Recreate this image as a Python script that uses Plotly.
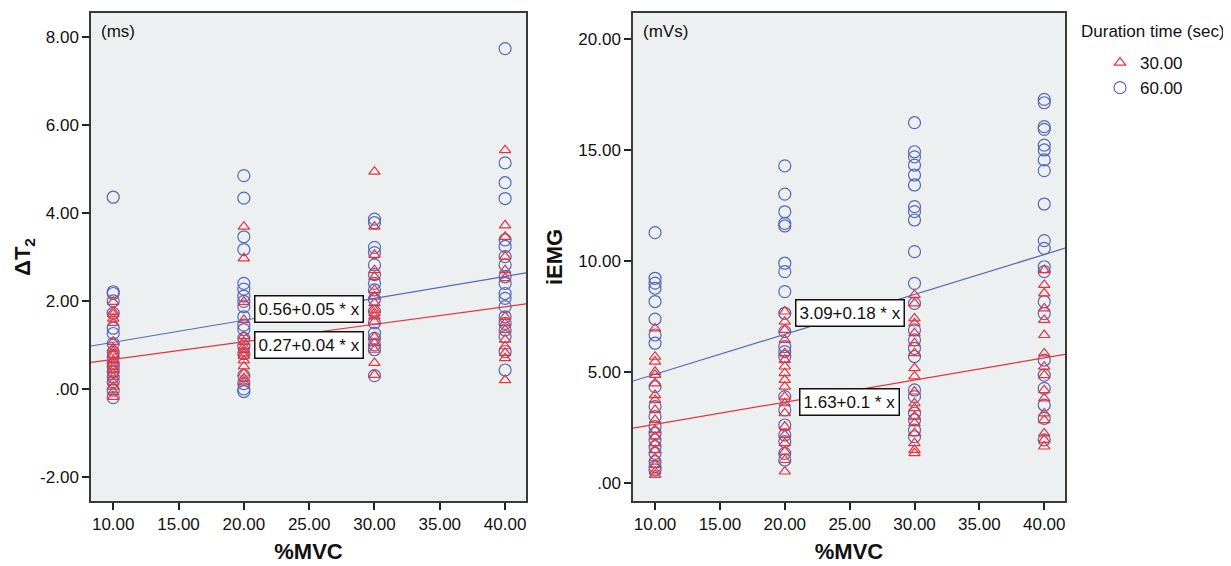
import plotly.graph_objects as go

# ---------------- data ----------------
mvc_levels = [10, 20, 30, 40]

x_tickvals = [10, 15, 20, 25, 30, 35, 40]
x_ticktext = ["10.00", "15.00", "20.00", "25.00", "30.00", "35.00", "40.00"]
dt2_tickvals = [-2, 0, 2, 4, 6, 8]
dt2_ticktext = ["-2.00", ".00", "2.00", "4.00", "6.00", "8.00"]
iemg_tickvals = [0, 5, 10, 15, 20]
iemg_ticktext = [".00", "5.00", "10.00", "15.00", "20.00"]

# Delta T2 (ms), 30 s duration, one list per %MVC level
dt2_30s = [
    [1.98, 1.75, 1.70, 1.60, 1.50, 1.07, 0.92, 0.85, 0.77, 0.65, 0.58, 0.50, 0.43, 0.35, 0.27, 0.15, 0.05, -0.07, -0.18],
    [3.69, 2.97, 1.98, 1.57, 1.20, 1.07, 0.96, 0.88, 0.81, 0.75, 0.65, 0.51, 0.35, 0.24, 0.15],
    [4.94, 3.69, 3.05, 2.70, 2.55, 2.25, 2.10, 1.95, 1.80, 1.72, 1.65, 1.53, 1.18, 1.04, 0.89, 0.59, 0.32],
    [5.43, 3.72, 3.46, 3.01, 2.70, 2.52, 1.64, 1.49, 1.34, 1.12, 0.97, 0.82, 0.70, 0.20],
]
# Delta T2 (ms), 60 s duration
dt2_60s = [
    [4.36, 2.21, 2.17, 2.00, 1.72, 1.38, 1.26, 1.03, 0.84, 0.73, 0.58, 0.50, 0.39, 0.27, 0.16, -0.03, -0.20],
    [4.85, 4.34, 3.46, 3.17, 2.40, 2.27, 2.11, 1.99, 1.87, 1.64, 1.45, 1.35, 1.15, 0.97, 0.80, 0.30, 0.12, 0.00, -0.06],
    [3.86, 3.78, 3.22, 3.10, 2.82, 2.60, 2.40, 2.25, 2.04, 1.76, 1.50, 1.27, 1.15, 1.00, 0.89, 0.30],
    [7.74, 5.14, 4.69, 4.33, 3.39, 3.24, 3.01, 2.82, 2.55, 2.40, 2.17, 2.06, 1.87, 1.64, 1.49, 1.34, 1.19, 0.85, 0.43],
]
# iEMG (mVs), 30 s duration
iemg_30s = [
    [6.96, 5.68, 5.46, 5.00, 4.86, 4.48, 3.95, 3.73, 3.28, 2.83, 2.37, 2.07, 1.77, 1.47, 1.10, 0.80, 0.50, 0.35],
    [7.72, 7.26, 6.89, 6.44, 5.84, 5.54, 5.24, 4.94, 4.64, 4.33, 3.88, 3.58, 3.13, 2.53, 2.15, 1.78, 1.40, 1.02, 0.50],
    [8.47, 8.09, 7.41, 7.19, 6.74, 6.29, 5.84, 5.17, 4.79, 4.11, 3.58, 3.36, 2.98, 2.68, 2.23, 1.78, 1.48, 1.33],
    [9.59, 8.92, 8.54, 7.86, 7.34, 6.66, 5.83, 5.23, 4.85, 4.17, 3.80, 3.12, 2.82, 2.22, 1.93, 1.63],
]
# iEMG (mVs), 60 s duration
iemg_60s = [
    [11.28, 9.22, 9.00, 8.77, 8.17, 7.38, 6.66, 6.29, 4.33, 3.43, 2.98, 2.53, 2.23, 1.93, 1.62, 1.32, 0.95, 0.72, 0.57],
    [14.29, 13.02, 12.22, 11.70, 11.58, 9.90, 9.52, 8.62, 7.64, 6.81, 6.14, 5.91, 5.69, 3.88, 3.28, 2.60, 2.15, 1.85, 1.32, 1.02],
    [16.24, 14.93, 14.70, 14.33, 13.88, 13.43, 12.45, 12.23, 11.85, 10.42, 8.99, 8.09, 6.89, 6.44, 6.06, 5.69, 4.18, 3.88, 3.13, 2.83, 2.37, 2.07],
    [17.29, 17.14, 16.06, 15.94, 15.23, 15.01, 14.56, 14.08, 12.57, 10.92, 10.57, 9.74, 9.52, 8.16, 7.63, 5.53, 4.85, 4.25, 3.50, 2.90, 1.93],
]

# fit lines: (intercept, slope)
dt2_fit_30 = (0.27, 0.04)
dt2_fit_60 = (0.56, 0.05)
iemg_fit_30 = (1.63, 0.1)
iemg_fit_60 = (3.09, 0.18)

fit_labels_dt2 = ["0.56+0.05 * x", "0.27+0.04 * x"]
fit_labels_iemg = ["3.09+0.18 * x", "1.63+0.1 * x"]
series_names = ["30.00", "60.00"]
legend_title = "Duration time (sec)"

# ---------------- styling ----------------
# the page body has an 8px default margin; compensate so the chart lands where intended
OFF = 8
W, H = 1231 - OFF, 566 - OFF
RED = "#E8323C"
BLUE = "#5767BC"
FONT = "Liberation Sans, Arial, sans-serif"
XR = [8.3, 41.6]
DT2_R = [-2.55, 8.55]
IEMG_R = [-0.83, 21.19]


def px_x(p):
    return (p - OFF) / W


def px_y(p):
    return 1 - (p - OFF) / H


def flatten(groups):
    xs, ys = [], []
    for lvl, vals in zip(mvc_levels, groups):
        xs += [lvl] * len(vals)
        ys += vals
    return xs, ys


fig = go.Figure()


def add_panel(xa, ya, d30, d60, f30, f60, show):
    x30, y30 = flatten(d30)
    x60, y60 = flatten(d60)
    fig.add_trace(go.Scatter(
        x=x60, y=y60, mode="markers", name=series_names[1], legendgroup="60",
        showlegend=show, legendrank=2,
        marker=dict(symbol="circle-open", size=12, color=BLUE, line=dict(width=1.2, color=BLUE)),
        xaxis=xa, yaxis=ya))
    fig.add_trace(go.Scatter(
        x=x30, y=y30, mode="markers", name=series_names[0], legendgroup="30",
        showlegend=show, legendrank=1,
        marker=dict(symbol="triangle-up-open", size=10, color=RED, line=dict(width=1.2, color=RED)),
        xaxis=xa, yaxis=ya))
    for (b0, b1), col in [(f60, BLUE), (f30, RED)]:
        fig.add_trace(go.Scatter(
            x=XR, y=[b0 + b1 * XR[0], b0 + b1 * XR[1]], mode="lines",
            line=dict(color=col, width=1.2), showlegend=False, hoverinfo="skip",
            xaxis=xa, yaxis=ya))


add_panel("x", "y", dt2_30s, dt2_60s, dt2_fit_30, dt2_fit_60, True)
add_panel("x2", "y2", iemg_30s, iemg_60s, iemg_fit_30, iemg_fit_60, False)

axis_common = dict(
    showline=True, linecolor="#3a3a3a", linewidth=1.5, mirror=True,
    ticks="outside", ticklen=7, tickwidth=1.5, tickcolor="#222",
    showgrid=False, zeroline=False,
    tickfont=dict(family=FONT, size=17, color="#111"),
)
title_font = dict(family=FONT, size=22, color="#111")

fig.update_layout(
    width=W, height=H,
    margin=dict(l=0, r=0, t=0, b=0),
    paper_bgcolor="white",
    plot_bgcolor="#ECF0F0",
    font=dict(family=FONT, size=17, color="#111"),
    xaxis=dict(domain=[px_x(91), px_x(526)], range=XR, tickvals=x_tickvals, ticktext=x_ticktext,
               title=dict(text="<b>%MVC</b>", font=title_font, standoff=10), **axis_common),
    yaxis=dict(domain=[px_y(501), px_y(13)], range=DT2_R, tickvals=dt2_tickvals, ticktext=dt2_ticktext,
               title=dict(text="<b>ΔT<sub>2</sub></b>", font=title_font, standoff=3), **axis_common),
    xaxis2=dict(domain=[px_x(633), px_x(1065)], range=XR, tickvals=x_tickvals, ticktext=x_ticktext,
                anchor="y2",
                title=dict(text="<b>%MVC</b>", font=title_font, standoff=10), **axis_common),
    yaxis2=dict(domain=[px_y(501), px_y(13)], range=IEMG_R, tickvals=iemg_tickvals, ticktext=iemg_ticktext,
                anchor="x2",
                title=dict(text="<b>iEMG</b>", font=title_font, standoff=10), **axis_common),
    legend=dict(
        x=px_x(1100), y=px_y(45), xanchor="left", yanchor="top",
        font=dict(family=FONT, size=17, color="#111"),
        bgcolor="rgba(0,0,0,0)", tracegroupgap=0, itemwidth=30,
    ),
)

# legend title
fig.add_annotation(text=legend_title, xref="paper", yref="paper", x=px_x(1079), y=px_y(31),
                   xanchor="left", yanchor="middle", showarrow=False,
                   font=dict(family=FONT, size=17, color="#111"))

# unit labels inside plots
fig.add_annotation(text="(ms)", xref="paper", yref="paper", x=px_x(99), y=px_y(32),
                   xanchor="left", yanchor="middle", showarrow=False,
                   font=dict(family=FONT, size=17, color="#111"))
fig.add_annotation(text="(mVs)", xref="paper", yref="paper", x=px_x(641), y=px_y(32),
                   xanchor="left", yanchor="middle", showarrow=False,
                   font=dict(family=FONT, size=17, color="#111"))

# fit equation boxes
box = dict(showarrow=False, bgcolor="white", bordercolor="#111", borderwidth=1.5, borderpad=3,
           font=dict(family=FONT, size=17, color="#111"), xanchor="center", yanchor="middle")
fig.add_annotation(text=fit_labels_dt2[0], x=25.0, y=1.81, xref="x", yref="y", **box)
fig.add_annotation(text=fit_labels_dt2[1], x=25.0, y=0.99, xref="x", yref="y", **box)
fig.add_annotation(text=fit_labels_iemg[0], x=25.0, y=7.65, xref="x2", yref="y2", **box)
fig.add_annotation(text=fit_labels_iemg[1], x=25.0, y=3.62, xref="x2", yref="y2", **box)

fig.write_html("out.html")
